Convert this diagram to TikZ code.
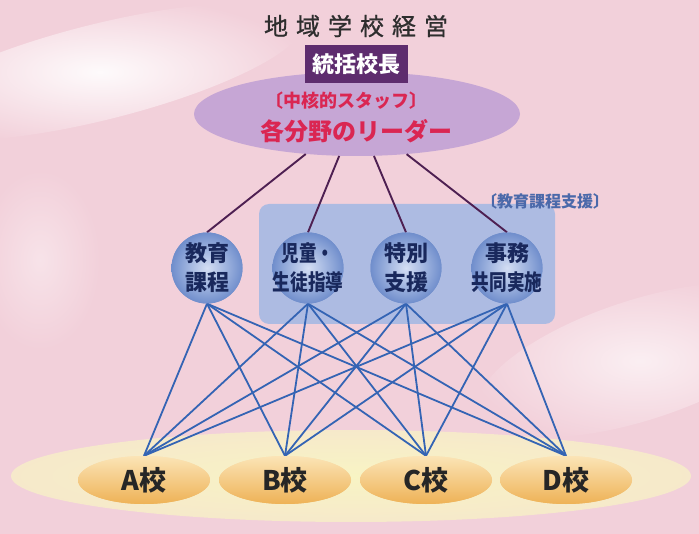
\documentclass[tikz,border=0pt]{standalone}
\usepackage{fontspec}
\newfontfamily\jp{Noto Sans CJK JP}
\newfontfamily\jpm[FakeBold=0.8]{Noto Sans CJK JP}
\usetikzlibrary{shapes.geometric}
\definecolor{bgpink}{RGB}{242,208,218}
\definecolor{leadpurple}{RGB}{198,166,213}
\definecolor{boxpurple}{RGB}{94,44,110}
\definecolor{crimson}{RGB}{218,38,82}
\definecolor{linepurple}{RGB}{78,32,82}
\definecolor{lineblue}{RGB}{52,100,180}
\definecolor{rectblue}{RGB}{150,180,230}
\definecolor{ballin}{RGB}{212,222,244}
\definecolor{ballout}{RGB}{112,142,204}
\definecolor{navytext}{RGB}{25,40,92}
\definecolor{labelblue}{RGB}{75,105,170}
\definecolor{paleyellow}{RGB}{248,244,196}
\definecolor{orangedark}{RGB}{238,178,86}
\definecolor{orangelight}{RGB}{251,228,182}
\tikzset{
  ball/.style={circle, minimum size=71pt, inner sep=0pt, inner color=ballin, outer color=ballout},
  balltext/.style={inner sep=0pt, font=\jp\bfseries\fontsize{22}{29}\selectfont, text=navytext, align=center},
  school/.style={ellipse, minimum width=132pt, minimum height=48pt, inner sep=0pt,
    top color=orangelight, bottom color=orangedark, font=\jp\bfseries\fontsize{27}{30}\selectfont, text=black!85},
  purpleline/.style={draw=linepurple, line width=1.9pt},
  blueline/.style={draw=lineblue, line width=1.8pt},
}
\newcommand{\sq}[1]{\scalebox{0.8}[1]{#1}}
\begin{document}
\begin{tikzpicture}[x=1pt,y=-1pt]
\useasboundingbox (0,0) rectangle (699,534);
% background
\fill[bgpink] (0,0) rectangle (699,534);
\shade[inner color=white!90!bgpink, outer color=bgpink, rotate around={14:(100,72)}] (100,72) ellipse [x radius=210, y radius=48];
\shade[inner color=white!65!bgpink, outer color=bgpink, rotate around={18:(640,360)}] (640,360) ellipse [x radius=170, y radius=60];
\shade[inner color=white!40!bgpink, outer color=bgpink] (40,260) ellipse [x radius=60, y radius=90];
% pale yellow ground
\shade[inner color=paleyellow, outer color=paleyellow!70!bgpink] (351,476) ellipse [x radius=340, y radius=46];
% blue support area
\fill[rectblue, opacity=0.75, rounded corners=10pt] (259,204) rectangle (555,324);
\node[font=\jp\bfseries\fontsize{16}{18}\selectfont, text=labelblue] (lab) at (545,201) {〔教育課程支援〕};
% leader ellipse
\node[ellipse, fill=leadpurple, minimum width=326pt, minimum height=84pt] (lead) at (357,114) {};
\node[font=\jp\bfseries\fontsize{18}{20}\selectfont, text=crimson] (core) at (346,101) {〔中核的スタッフ〕};
\node[font=\jp\bfseries\fontsize{24}{26}\selectfont, text=crimson] (leader) at (356,131) {各分野のリーダー};
% title and principal
\node[font=\jpm\fontsize{24}{26}\selectfont, text=black!82] (title) at (356,26) {地\hspace{8pt}域\hspace{8pt}学\hspace{8pt}校\hspace{8pt}経\hspace{8pt}営};
\node[fill=boxpurple, minimum width=103pt, minimum height=38pt, inner sep=0pt,
  font=\jp\bfseries\fontsize{22}{24}\selectfont, text=white] (boss) at (356,64) {統括校長};
% school positions (for connectors)
\node[school] (A) at (144,480) {};
\node[school] (B) at (285,480) {};
\node[school] (C) at (426,480) {};
\node[school] (D) at (566,480) {};
% ball positions
\node[ball] (c1) at (207,268) {};
\node[ball] (c2) at (308,268) {};
\node[ball] (c3) at (406,268) {};
\node[ball] (c4) at (507,268) {};
% purple connectors
\draw[purpleline] (lead.218) -- (c1.north);
\draw[purpleline] (lead.247) -- (c2.north);
\draw[purpleline] (lead.292) -- (c3.north);
\draw[purpleline] (lead.321) -- (c4.north);
% blue connectors
\foreach \c in {c1,c2,c3,c4}{
  \foreach \s in {A,B,C,D}{
    \draw[blueline] (\c.south) -- (\s.north);
  }
}
% redraw balls and schools on top
\node[ball] (c1b) at (c1) {};
\node[ball] (c2b) at (c2) {};
\node[ball] (c3b) at (c3) {};
\node[ball] (c4b) at (c4) {};
\node[balltext] (t1) at (c1) {教育\\課程};
\node[balltext] (t2) at (c2) {\sq{児童・}\\\sq{生徒指導}};
\node[balltext] (t3) at (c3) {特別\\支援};
\node[balltext] (t4) at (c4) {事務\\\sq{共同実施}};
\node[school] (As) at (A) {A校};
\node[school] (Bs) at (B) {B校};
\node[school] (Cs) at (C) {C校};
\node[school] (Ds) at (D) {D校};
\end{tikzpicture}
\end{document}
